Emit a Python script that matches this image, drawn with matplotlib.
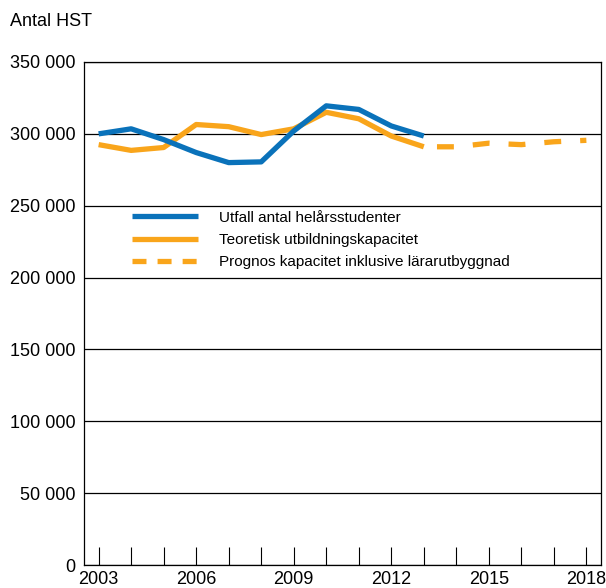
import numpy as np
import matplotlib.pyplot as plt
from matplotlib.lines import Line2D
from matplotlib.ticker import FuncFormatter

# values
years = list(range(2003, 2014))
utfall = [300000, 303500, 296000, 287000, 280000, 280500, 302000, 319500, 317000, 305500, 298500]
kapacitet = [292500, 288500, 290500, 306500, 305000, 299500, 303500, 315000, 310500, 298500, 291000]
prognos_years = list(range(2013, 2019))
prognos = [291000, 291000, 293500, 292500, 294500, 295500]

labels = ['Utfall antal helårsstudenter', 'Teoretisk utbildningskapacitet',
          'Prognos kapacitet inklusive lärarutbyggnad']

blue = '#0a72ba'
orange = '#f9a51b'

plt.rcParams['font.family'] = ['Liberation Sans', 'DejaVu Sans']

fig = plt.figure(figsize=(6.06, 5.88), dpi=100)
ax = fig.add_axes([84/606, 23/588, 517/606, 503/588])

for v in range(0, 350001, 50000):
    ax.axhline(v, color='black', lw=0.9, zorder=1)

ax.plot(years, utfall, color=blue, lw=3.8, zorder=3, solid_capstyle='butt')
ax.plot(years, kapacitet, color=orange, lw=3.8, zorder=2, solid_capstyle='butt')
ax.plot(prognos_years, prognos, color=orange, lw=3.8, ls=(4.3, (3.2, 3.6)), zorder=2)

ax.set_xlim(2002.55, 2018.45)
ax.set_ylim(0, 350000)
ax.set_xticks(range(2003, 2019))
ax.set_xticklabels([str(y) if (y - 2003) % 3 == 0 else '' for y in range(2003, 2019)])
ax.set_yticks(range(0, 350001, 50000))
ax.yaxis.set_major_formatter(FuncFormatter(lambda v, p: f'{int(v):,}'.replace(',', ' ')))
ax.tick_params(axis='x', direction='in', length=13, width=0.8, labelsize=13, pad=4)
ax.tick_params(axis='y', length=0, labelsize=13, pad=6)
for s in ax.spines.values():
    s.set_linewidth(0.9)

handles = [Line2D([], [], color=blue, lw=3.8, solid_capstyle='butt'),
           Line2D([], [], color=orange, lw=3.8, solid_capstyle='butt'),
           Line2D([], [], color=orange, lw=3.8, ls=(0, (2.65, 2.1)))]
leg = ax.legend(handles, labels, loc='upper left', bbox_to_anchor=(0.066, 0.732), frameon=False,
                fontsize=11, handlelength=4.3, handletextpad=1.4, labelspacing=0.55)

fig.text(10/606, 1 - 22/588, 'Antal HST', fontsize=13, va='center', ha='left')

fig.savefig('out.png', dpi=100)
